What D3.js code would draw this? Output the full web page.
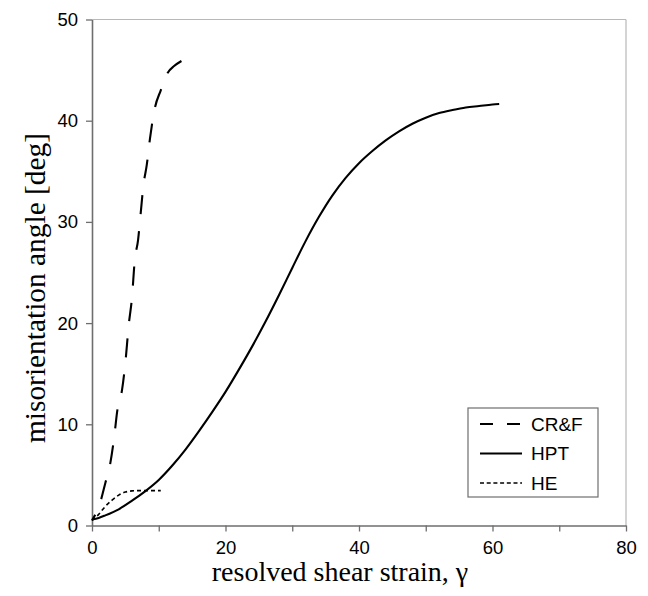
<!DOCTYPE html>
<html>
<head>
<meta charset="utf-8">
<script src="https://cdn.jsdelivr.net/npm/d3@7"></script>
<style>
  html, body { margin: 0; padding: 0; background: #fff; }
  svg { display: block; }
</style>
</head>
<body>
<script>
// ---- data ----
const xTicks = [0, 10, 20, 30, 40, 50, 60, 70, 80];
const xLabels = [0, 20, 40, 60, 80];
const yTicks = [0, 10, 20, 30, 40, 50];
const seriesNames = ["CR&F", "HPT", "HE"];

const crfX = [0, 1.2, 2.0, 2.7, 3.3, 3.8, 4.5, 5.0, 5.5, 6.0, 6.4, 6.9, 7.3, 7.7, 8.2, 8.7, 9.4, 10.3, 11.3, 12.3, 13.4];
const crfY = [0.5, 2.2, 4.2, 6.0, 8.6, 11.4, 13.4, 16.1, 19.8, 22.6, 26.2, 28.2, 30.9, 33.6, 35.6, 38.3, 41.2, 43.0, 44.7, 45.4, 45.9];

const hptX = [0, 1, 2, 4, 6, 8, 10, 12, 14, 16, 18, 20, 22, 24, 26, 28, 30, 32, 34, 36, 38, 40, 42, 44, 46, 48, 50, 52, 54, 56, 58, 60, 61];
const hptY = [0.6, 0.75, 1.0, 1.6, 2.45, 3.4, 4.5, 5.9, 7.5, 9.3, 11.2, 13.2, 15.4, 17.7, 20.15, 22.75, 25.45, 28.1, 30.5, 32.6, 34.35, 35.8, 37.0, 38.05, 38.95, 39.7, 40.3, 40.75, 41.05, 41.3, 41.45, 41.6, 41.65];

const heX = [0, 0.5, 1, 1.5, 2, 3, 4, 5, 6, 7, 8, 10.3];
const heY = [0.5, 0.8, 1.1, 1.5, 1.9, 2.5, 3.0, 3.3, 3.42, 3.45, 3.45, 3.45];

// ---- layout ----
const W = 648, H = 596;
const svg = d3.select("body").append("svg").attr("width", W).attr("height", H);

const x = d3.scaleLinear().domain([0, 80]).range([92, 626]);
const y = d3.scaleLinear().domain([0, 50]).range([525.5, 19.5]);

const sans = "'Liberation Sans', Arial, sans-serif";
const serif = "'Liberation Serif', 'Times New Roman', serif";

// frame (top & right)
svg.append("line").attr("x1", x(0)).attr("x2", x(80)).attr("y1", y(50)).attr("y2", y(50))
  .attr("stroke", "#b8b8b8").attr("stroke-width", 1.2);
svg.append("line").attr("x1", x(80)).attr("x2", x(80)).attr("y1", y(50)).attr("y2", y(0))
  .attr("stroke", "#b8b8b8").attr("stroke-width", 1.2);

// x axis
const xAxis = d3.axisBottom(x).tickValues(xTicks).tickSize(6).tickSizeOuter(0)
  .tickFormat(d => xLabels.includes(d) ? d : "");
const gx = svg.append("g").attr("transform", `translate(0,${y(0)})`).call(xAxis);
gx.select(".domain").attr("stroke", "#6e6e6e").attr("stroke-width", 1.6);
gx.selectAll(".tick line").attr("stroke", "#6e6e6e").attr("stroke-width", 1.3);
gx.selectAll(".tick text").attr("font-family", sans).attr("font-size", 18.5)
  .attr("fill", "#000").attr("y", 15).attr("dy", "0.71em");

// y axis
const yAxis = d3.axisLeft(y).tickValues(yTicks).tickSize(6).tickSizeOuter(0);
const gy = svg.append("g").attr("transform", `translate(${x(0)},0)`).call(yAxis);
gy.select(".domain").attr("stroke", "#6e6e6e").attr("stroke-width", 1.6);
gy.selectAll(".tick line").attr("stroke", "#6e6e6e").attr("stroke-width", 1.3);
gy.selectAll(".tick text").attr("font-family", sans).attr("font-size", 18.5)
  .attr("fill", "#000").attr("x", -14);

// titles
svg.append("text").attr("x", 340).attr("y", 581).attr("text-anchor", "middle")
  .attr("font-family", serif).attr("font-size", 28).attr("fill", "#000")
  .text("resolved shear strain, γ");
svg.append("text").attr("transform", `translate(45,288) rotate(-90)`)
  .attr("text-anchor", "middle").attr("font-family", serif).attr("font-size", 29.4).attr("fill", "#000")
  .text("misorientation angle [deg]");

// lines
const line = d3.line().x(d => x(d[0])).y(d => y(d[1])).curve(d3.curveMonotoneX);
const series = [
  { name: seriesNames[0], pts: d3.zip(crfX, crfY), dash: [19, 17], w: 2.1, ldash: "13,14" },
  { name: seriesNames[1], pts: d3.zip(hptX, hptY), dash: null, w: 2.1, ldash: null },
  { name: seriesNames[2], pts: d3.zip(heX, heY), dash: [4, 3], w: 1.6, ldash: "4,2.7" }
];
series.forEach(s => {
  const p = svg.append("path").attr("d", line(s.pts)).attr("fill", "none")
    .attr("stroke", "#000").attr("stroke-width", s.w);
  if (s.dash) {
    p.attr("stroke-dasharray", s.dash.join(","));
    if (s.name === "CR&F") {
      const L = p.node().getTotalLength();
      const period = s.dash[0] + s.dash[1];
      const off = (((s.dash[0] - L) % period) + period) % period;
      p.attr("stroke-dashoffset", off);
    }
  }
});

// legend
const lg = svg.append("g");
lg.append("rect").attr("x", 468).attr("y", 408).attr("width", 130).attr("height", 89)
  .attr("fill", "#fff").attr("stroke", "#6e6e6e").attr("stroke-width", 1.2);
series.forEach((s, i) => {
  const cy = 424 + i * 29.5;
  lg.append("line").attr("x1", 480).attr("x2", 522).attr("y1", cy).attr("y2", cy)
    .attr("stroke", "#000").attr("stroke-width", s.w).attr("stroke-dasharray", s.ldash);
  lg.append("text").attr("x", 531).attr("y", cy).attr("dy", "0.35em")
    .attr("font-family", sans).attr("font-size", 19).attr("fill", "#000").text(s.name);
});
</script>
</body>
</html>
